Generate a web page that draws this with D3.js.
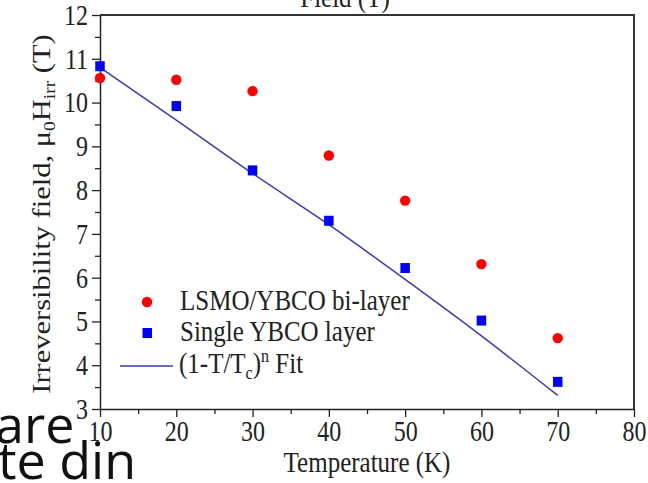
<!DOCTYPE html>
<html>
<head>
<meta charset="utf-8">
<script src="https://cdn.jsdelivr.net/npm/d3@7"></script>
<style>
  body { margin: 0; background: #fff; }
  svg { display: block; }
  .tick text { font-family: "Liberation Serif", "Times New Roman", serif; }
</style>
</head>
<body>
<div id="chart"></div>
<script>
// data
const temps = [10, 20, 30, 40, 50, 60, 70];
const bilayer = [10.56, 10.52, 10.26, 8.79, 7.76, 6.31, 4.62];
const single = [10.83, 9.92, 8.45, 7.30, 6.22, 5.02, 3.62];
const fitValues = [10.80, 9.60, 8.38, 7.21, 5.96, 4.67, 3.31];
const xTicks = [10, 20, 30, 40, 50, 60, 70, 80];
const yTicks = [3, 4, 5, 6, 7, 8, 9, 10, 11, 12];

const width = 648, height = 483;
const marginLeft = 100, marginRight = 14, marginTop = 15, marginBottom = 74;
const serif = '"Liberation Serif", "Times New Roman", serif';
const fontSize = 25;
const stretch = 1.22; // the original picture is stretched vertically

const svg = d3.select("#chart").append("svg")
    .attr("width", width)
    .attr("height", height);

const x = d3.scaleLinear().domain([10, 80]).range([marginLeft, width - marginRight]);
const y = d3.scaleLinear().domain([3, 12]).range([height - marginBottom, marginTop]);

// horizontal text, stretched in height like the picture
function tallText(sel, px, py) {
    return sel.append("text")
        .attr("transform", `translate(${px},${py}) scale(1,${stretch})`)
        .attr("font-family", serif)
        .attr("font-size", fontSize)
        .attr("fill", "#222");
}

// cut-off title at the top
tallText(svg, 345, 7).attr("text-anchor", "middle").text("Field (T)");

// minor ticks
const xMinor = d3.range(15, 80, 10);
const yMinor = d3.range(3.5, 12, 1);

svg.append("g")
    .attr("transform", `translate(0,${y(3)})`)
    .call(d3.axisBottom(x).tickValues(xMinor).tickSize(5).tickFormat(""))
    .call(g => g.select(".domain").remove())
    .call(g => g.selectAll("line").attr("stroke", "#222").attr("stroke-width", 1.3));
svg.append("g")
    .attr("transform", `translate(${x(10)},0)`)
    .call(d3.axisLeft(y).tickValues(yMinor).tickSize(5).tickFormat(""))
    .call(g => g.select(".domain").remove())
    .call(g => g.selectAll("line").attr("stroke", "#222").attr("stroke-width", 1.3));

// major axes
svg.append("g")
    .attr("transform", `translate(0,${y(3)})`)
    .call(d3.axisBottom(x).tickValues(xTicks).tickSize(8).tickSizeOuter(0).tickPadding(1))
    .call(g => g.selectAll("text").attr("font-size", 24).attr("fill", "#222")
        .attr("transform", `scale(1,${stretch})`))
    .call(g => g.selectAll("line").attr("stroke", "#222").attr("stroke-width", 1.3))
    .call(g => g.select(".domain").attr("stroke", "#222").attr("stroke-width", 1.5));

svg.append("g")
    .attr("transform", `translate(${x(10)},0)`)
    .call(d3.axisLeft(y).tickValues(yTicks).tickSize(8).tickSizeOuter(0).tickPadding(4))
    .call(g => g.selectAll("text").attr("font-size", 24).attr("fill", "#222")
        .attr("transform", `scale(1,${stretch})`))
    .call(g => g.selectAll("line").attr("stroke", "#222").attr("stroke-width", 1.3))
    .call(g => g.select(".domain").attr("stroke", "#222").attr("stroke-width", 1.5));

// top and right frame
svg.append("path")
    .attr("d", `M${x(10)},${y(12)}H${x(80)}V${y(3)}`)
    .attr("fill", "none")
    .attr("stroke", "#333")
    .attr("stroke-width", 2);

// axis titles
tallText(svg, (x(10) + x(80)) / 2, 472).attr("text-anchor", "middle").text("Temperature (K)");

const yLab = svg.append("text")
    .attr("transform", `translate(50,214) rotate(-90) scale(${stretch},1)`)
    .attr("text-anchor", "middle")
    .attr("font-family", serif)
    .attr("font-size", fontSize)
    .attr("fill", "#222");
yLab.append("tspan").text("Irreversibility field, μ");
yLab.append("tspan").attr("font-size", 16).attr("dy", 5).text("0");
yLab.append("tspan").attr("dy", -5).text("H");
yLab.append("tspan").attr("font-size", 16).attr("dy", 5).text("irr");
yLab.append("tspan").attr("dy", -5).text(" (T)");

// fit line
const line = d3.line()
    .x((d, i) => x(temps[i]))
    .y(d => y(d))
    .curve(d3.curveMonotoneX);

svg.append("path")
    .datum(fitValues)
    .attr("d", line)
    .attr("fill", "none")
    .attr("stroke", "#3b3bb0")
    .attr("stroke-width", 1.5);

// bi-layer points
svg.append("g")
    .selectAll("circle")
    .data(bilayer)
    .join("circle")
    .attr("cx", (d, i) => x(temps[i]))
    .attr("cy", d => y(d))
    .attr("r", 5.2)
    .attr("fill", "#f00");

// single layer points
svg.append("g")
    .selectAll("rect")
    .data(single)
    .join("rect")
    .attr("x", (d, i) => x(temps[i]) - 4.75)
    .attr("y", d => y(d) - 5)
    .attr("width", 9.5)
    .attr("height", 10)
    .attr("fill", "#00f");

// legend
const legend = svg.append("g");

legend.append("circle").attr("cx", 147).attr("cy", 302).attr("r", 5.2).attr("fill", "#f00");
tallText(legend, 180, 310).text("LSMO/YBCO bi-layer");

legend.append("rect").attr("x", 142.5).attr("y", 328).attr("width", 9.5).attr("height", 10).attr("fill", "#00f");
tallText(legend, 180, 341).text("Single YBCO layer");

legend.append("line")
    .attr("x1", 120).attr("x2", 173).attr("y1", 366).attr("y2", 366)
    .attr("stroke", "#3b3bb0").attr("stroke-width", 1.5);
const fitLab = tallText(legend, 179, 373);
fitLab.append("tspan").text("(1-T/T");
fitLab.append("tspan").attr("font-size", 16).attr("dy", 5).text("c");
fitLab.append("tspan").attr("dy", -5).text(")");
fitLab.append("tspan").attr("font-size", 16).attr("dy", -9).text("n");
fitLab.append("tspan").attr("dy", 9).text(" Fit");

// slide text that overlaps the chart on the left
const slide = svg.append("g")
    .attr("font-family", '"Open Sans", "Noto Sans", sans-serif')
    .attr("font-size", 52)
    .attr("fill", "#111");
slide.append("text").attr("x", -5).attr("y", 443).text("are");
slide.append("text").attr("x", -2).attr("y", 479).text("te din");
</script>
</body>
</html>
